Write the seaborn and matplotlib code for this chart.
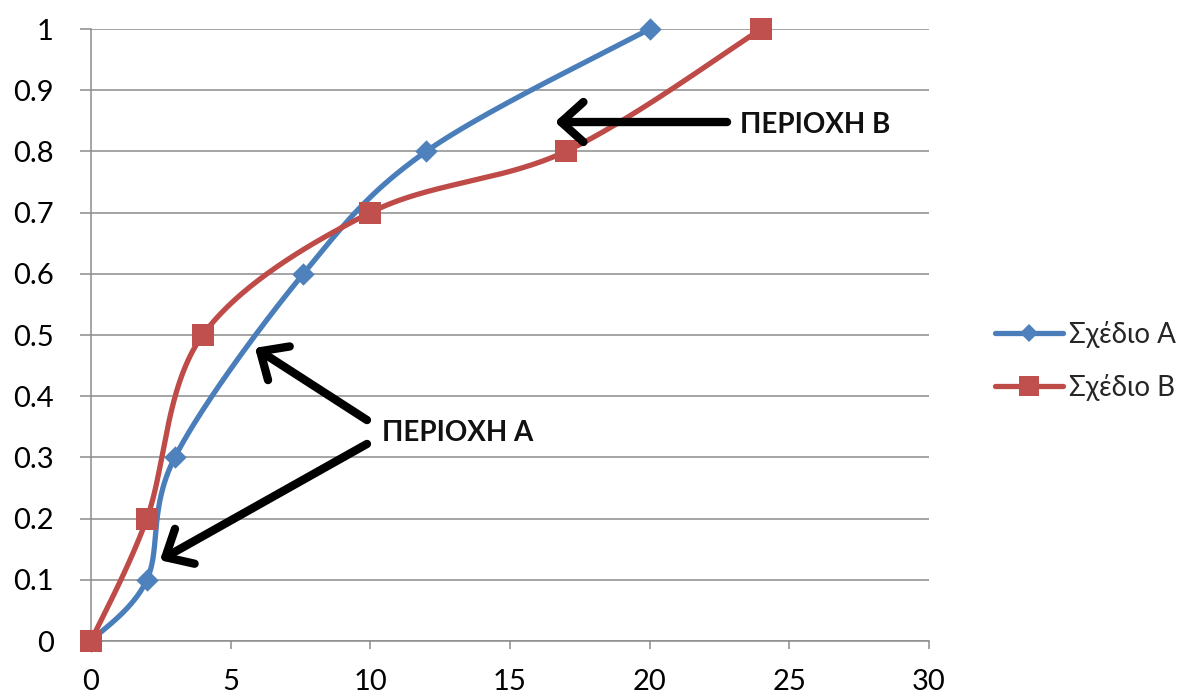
import numpy as np
import pandas as pd
import matplotlib
matplotlib.use("Agg")
import matplotlib.pyplot as plt
from matplotlib.lines import Line2D
import seaborn as sns

# Series data
series_names = ["Σχέδιο Α", "Σχέδιο Β"]
x_a = [0, 2, 3, 7.6, 12, 20]
y_a = [0, 0.1, 0.3, 0.6, 0.8, 1.0]
x_b = [0, 2, 4, 10, 17, 24]
y_b = [0, 0.2, 0.5, 0.7, 0.8, 1.0]

x_ticks = [0, 5, 10, 15, 20, 25, 30]
y_ticks = [0, 0.1, 0.2, 0.3, 0.4, 0.5, 0.6, 0.7, 0.8, 0.9, 1.0]
y_tick_labels = ["0", "0.1", "0.2", "0.3", "0.4", "0.5", "0.6", "0.7", "0.8", "0.9", "1"]

label_a = "ΠΕΡΙΟΧΗ Α"
label_b = "ΠΕΡΙΟΧΗ Β"

color_a_line, color_a_mark = "#4A7EBB", "#4F81BD"
color_b_line, color_b_mark = "#BE4B48", "#C0504D"
grid_gray = "#8C8C8C"

sns.set_theme(style="white")
plt.rcParams["font.family"] = ["Lato", "Noto Sans", "DejaVu Sans"]

W, H, DPI = 1193, 697, 100
fig = plt.figure(figsize=(W / DPI, H / DPI), dpi=DPI)
ax = fig.add_axes([91 / W, 1 - 641 / H, (929 - 91) / W, (641 - 29) / H])
ax.set_xlim(0, 30)
ax.set_ylim(0, 1)

# Axis pixel extents, used so the smoothing is done in screen space
px_w, px_h = 929 - 91, 641 - 29


def smooth(xs, ys, n=60):
    """Catmull-Rom style smoothing through the given points (screen space)."""
    p = np.column_stack([np.asarray(xs, float) / 30 * px_w, np.asarray(ys, float) * px_h])
    pts = np.vstack([p[0], p, p[-1]])
    out = []
    for i in range(1, len(pts) - 2):
        p0, p1, p2, p3 = pts[i - 1], pts[i], pts[i + 1], pts[i + 2]
        c1 = p1 + (p2 - p0) / 6
        c2 = p2 - (p3 - p1) / 6
        t = np.linspace(0, 1, n)[:, None]
        seg = ((1 - t) ** 3) * p1 + 3 * ((1 - t) ** 2) * t * c1 + 3 * (1 - t) * t ** 2 * c2 + t ** 3 * p2
        out.append(seg if i == 1 else seg[1:])
    s = np.vstack(out)
    return s[:, 0] / px_w * 30, s[:, 1] / px_h


sa_x, sa_y = smooth(x_a, y_a)
sb_x, sb_y = smooth(x_b, y_b)
curves = pd.concat([
    pd.DataFrame({"x": sa_x, "y": sa_y, "plan": series_names[0], "order": np.arange(len(sa_x))}),
    pd.DataFrame({"x": sb_x, "y": sb_y, "plan": series_names[1], "order": np.arange(len(sb_x))}),
])
points = pd.concat([
    pd.DataFrame({"x": x_a, "y": y_a, "plan": series_names[0]}),
    pd.DataFrame({"x": x_b, "y": y_b, "plan": series_names[1]}),
])

# gridlines
ax.set_yticks(y_ticks)
ax.set_yticklabels(y_tick_labels)
ax.set_xticks(x_ticks)
ax.yaxis.grid(True, color=grid_gray, lw=1.1)
ax.xaxis.grid(False)
ax.set_axisbelow(True)

line_colors = {series_names[0]: color_a_line, series_names[1]: color_b_line}
sns.lineplot(data=curves, x="x", y="y", hue="plan", units="plan", estimator=None,
             sort=False, palette=line_colors, lw=3.8, legend=False, ax=ax,
             clip_on=False, zorder=3)
sns.scatterplot(data=points[points.plan == series_names[0]], x="x", y="y", marker="D",
                s=130, color=color_a_mark, edgecolor=color_a_mark, linewidth=0,
                legend=False, ax=ax, clip_on=False, zorder=4)
sns.scatterplot(data=points[points.plan == series_names[1]], x="x", y="y", marker="s",
                s=260, color=color_b_mark, edgecolor=color_b_mark, linewidth=0,
                legend=False, ax=ax, clip_on=False, zorder=4)

ax.set_xlabel("")
ax.set_ylabel("")

for side in ["top", "right"]:
    ax.spines[side].set_visible(False)
for side in ["left", "bottom"]:
    ax.spines[side].set_color(grid_gray)
    ax.spines[side].set_linewidth(1.1)

ax.tick_params(axis="both", which="major", direction="out", color=grid_gray,
               width=1.1, labelsize=21, labelcolor="black", bottom=True, left=True)
ax.tick_params(axis="y", length=8, pad=19)
ax.tick_params(axis="x", length=6, pad=14)

# legend
handles = [
    Line2D([0], [0], color=color_a_line, lw=3.8, marker="D", markersize=9,
           markerfacecolor=color_a_mark, markeredgewidth=0),
    Line2D([0], [0], color=color_b_line, lw=3.8, marker="s", markersize=14,
           markerfacecolor=color_b_mark, markeredgewidth=0),
]
fig.legend(handles, series_names, loc="center left", bbox_to_anchor=(995 / W, 1 - 361 / H),
           frameon=False, fontsize=20, numpoints=1, handlelength=2.45, handletextpad=0.2,
           labelspacing=0.95, borderaxespad=0, borderpad=0)

# annotations with arrows
arrow = dict(arrowstyle="->, head_length=1.0, head_width=0.9", lw=6, color="black",
             mutation_scale=16, shrinkA=0, shrinkB=0, capstyle="round")
ax.annotate("", xy=(16.61, 0.848), xytext=(22.77, 0.848), arrowprops=arrow, zorder=5,
            annotation_clip=False)
ax.text(23.24, 0.843, label_b, fontsize=20, fontweight="bold", ha="left", va="center",
        color="#111111", zorder=5)
ax.annotate("", xy=(5.87, 0.479), xytext=(9.88, 0.361), arrowprops=arrow, zorder=5,
            annotation_clip=False)
ax.annotate("", xy=(2.47, 0.132), xytext=(9.88, 0.322), arrowprops=arrow, zorder=5,
            annotation_clip=False)
ax.text(10.42, 0.340, label_a, fontsize=20, fontweight="bold", ha="left", va="center",
        color="#111111", zorder=5)

fig.savefig("out.png", dpi=DPI, facecolor="white")
